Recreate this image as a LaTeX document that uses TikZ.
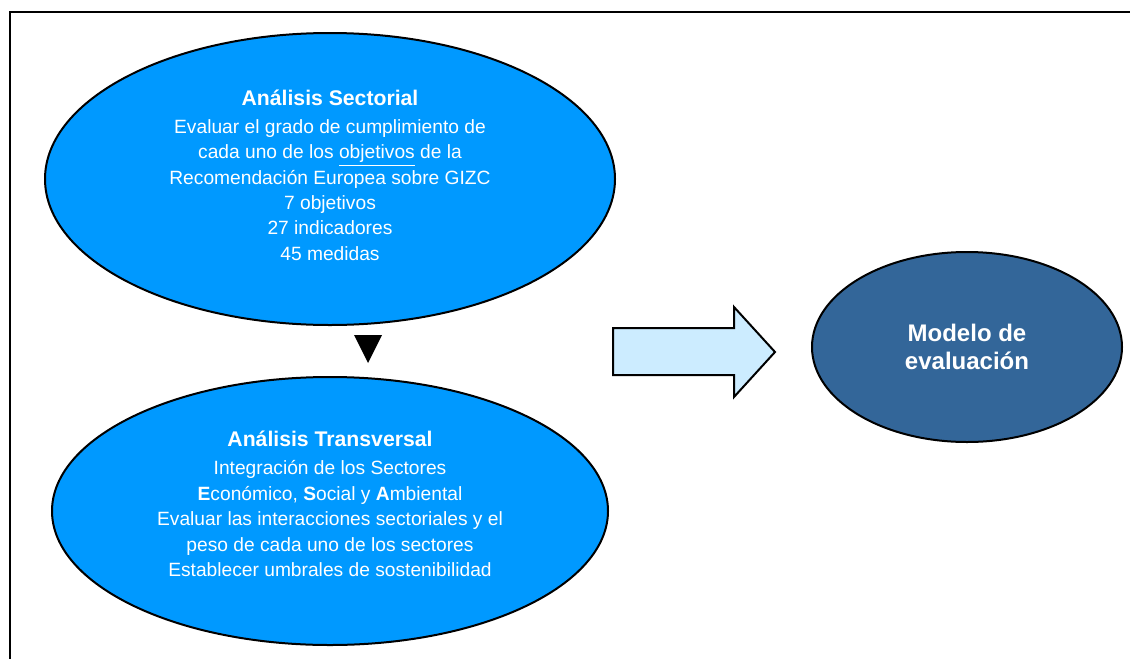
\documentclass[tikz,border=0pt]{standalone}
\usepackage{fontspec}
\setmainfont{Liberation Sans}
\usetikzlibrary{shapes.geometric}
\definecolor{sectblue}{RGB}{0,153,255}
\definecolor{modelblue}{RGB}{51,102,153}
\definecolor{arrowblue}{RGB}{204,236,255}

\begin{document}
\begin{tikzpicture}[x=0.5pt, y=-0.5pt, every node/.style={draw, ellipse, line width=1pt, text=white, align=center, inner sep=0pt}]
\useasboundingbox (0,0) rectangle (1130,659);
\draw[line width=1pt] (1130,11.5) -- (9.5,11.5) -- (9.5,659);
\node[fill=sectblue, minimum width=285pt, minimum height=146pt, text depth=4pt, font=\fontsize{9.6}{12.7}\selectfont] (sect) at (330,179) {{\fontsize{10.6}{12.7}\selectfont\bfseries Análisis Sectorial}\\[1.3pt]
Evaluar el grado de cumplimiento de\\ cada uno de los \underline{objetivos} de la\\ Recomendación Europea sobre GIZC\\ 7 objetivos\\ 27 indicadores\\ 45 medidas};
\node[fill=sectblue, minimum width=278pt, minimum height=134pt, text depth=7pt, font=\fontsize{9.6}{12.7}\selectfont] (trans) at (330,511) {{\fontsize{10.6}{12.7}\selectfont\bfseries Análisis Transversal}\\[1.3pt]
Integración de los Sectores\\ \textbf{E}conómico, \textbf{S}ocial y \textbf{A}mbiental\\ Evaluar las interacciones sectoriales y el\\ peso de cada uno de los sectores\\ Establecer umbrales de sostenibilidad};
\node[fill=modelblue, minimum width=155pt, minimum height=95pt, font=\fontsize{12}{14}\selectfont\bfseries] (model) at (967,347) {Modelo de\\ evaluación};
\fill (354,335) -- (382,335) -- (368,363) -- cycle;
\draw[line width=1pt, fill=arrowblue] (613,328) -- (734,328) -- (734,307) -- (775,352) -- (734,397) -- (734,375) -- (613,375) -- cycle;
\end{tikzpicture}
\end{document}
